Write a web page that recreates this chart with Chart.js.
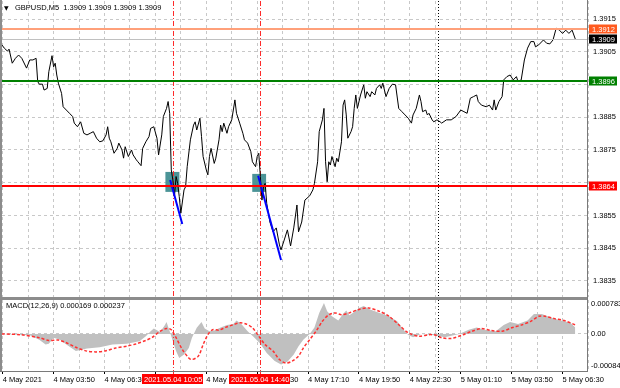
<!DOCTYPE html>
<html>
<head>
<meta charset="utf-8">
<script src="https://cdn.jsdelivr.net/npm/chart.js@4.4.1/dist/chart.umd.min.js"></script>
<style>
  html, body { margin: 0; padding: 0; background: #fff; }
  #wrap { position: relative; width: 620px; height: 388px; overflow: hidden; }
  #mainChart { position: absolute; left: 0; top: 0; }
  #macdChart { position: absolute; left: 0; top: 300px; }
</style>
</head>
<body>
<div id="wrap">
  <canvas id="mainChart" width="620" height="300"></canvas>
  <canvas id="macdChart" width="620" height="88"></canvas>
</div>
<script>
// GBPUSD M5, bar 0 = 4 May 2021 01:10
const symbol = 'GBPUSD,M5';
const ohlc = ['1.3909', '1.3909', '1.3909', '1.3909'];

const priceBars = [-0.5,1,3,4,6,8,10,12,15,17,19,21,22,23,25,26,28,29,31,32,33,34,35,37,38,40,42,44,45,47,49,51,53,55,57,59,61,63,65,66,67,68,70,72,73,75,76,77,79,81,82,84,85,87,88,90,92,
  93,95,97,98,100,101,103,104,105,106,107,108,109,110,111,112,114,115,116,118,120,121,122,124,125,126,128,129,130,131,133,134,136,137,138,139,141,142,144,145,146,147,149,151,152,154,156,157,159,160,161,162,163,164,165,166,168,170,172,174,175,177,179,181,183,185,186,188,190,193,195,196,198,199,201,202,203,204,205,206,207,209,210,211,213,214,215,216,217,219,220,221,222,223,225,227,228,229,231,232,234,235,237,238,239,241,243,245,247,249,251,253,255,257,258,260,262,263,264,266,267,268,270,271,273,275,276,279,282,285,288,290,292,294,296,298,299,301,304,306,308,309,310,312,314,315,317,319,321,323,324,326,328,330,332,334,335,337,340,342,344,346,348,350,352,354,356,358,360];
const closes = [1.39071,1.39061,1.39052,1.39058,1.39015,1.39030,1.39040,1.39030,1.39000,1.39025,1.39025,1.39030,1.38959,1.38951,1.38951,1.38933,1.38938,1.38989,1.39038,1.39004,1.39015,1.38979,1.38954,1.38923,1.38882,1.38872,1.38862,1.38852,1.38832,1.38821,1.38836,1.38801,1.38796,1.38801,1.38806,1.38786,1.38775,1.38778,1.38796,1.38821,1.38786,1.38775,1.38740,1.38755,1.38771,1.38750,1.38725,1.38760,1.38730,1.38750,1.38735,1.38720,1.38714,1.38702,1.38755,1.38775,1.38791,
  1.38816,1.38821,1.38786,1.38735,1.38796,1.38852,1.38877,1.38898,1.38862,1.38689,1.38658,1.38608,1.38669,1.38648,1.38608,1.38557,1.38628,1.38638,1.38699,1.38781,1.38826,1.38836,1.38811,1.38847,1.38791,1.38730,1.38689,1.38674,1.38730,1.38755,1.38709,1.38725,1.38781,1.38826,1.38806,1.38832,1.38801,1.38821,1.38842,1.38872,1.38903,1.38862,1.38832,1.38801,1.38781,1.38771,1.38745,1.38714,1.38699,1.38730,1.38740,1.38669,1.38597,1.38638,1.38648,1.38587,1.38530,1.38500,1.38512,1.38460,1.38445,1.38475,1.38506,1.38457,1.38512,1.38582,1.38500,1.38530,1.38597,1.38610,1.38628,1.38648,1.38714,1.38806,1.38842,1.38877,1.38714,1.38653,1.38714,1.38704,1.38730,1.38699,1.38725,1.38714,1.38775,1.38887,1.38903,1.38857,1.38786,1.38806,1.38821,1.38877,1.38918,1.38877,1.38918,1.38949,1.38908,1.38928,1.38913,1.38928,1.38918,1.38938,1.38949,1.38938,1.38954,1.38913,1.38938,1.38951,1.38949,1.38877,1.38867,1.38857,1.38847,1.38832,1.38857,1.38877,1.38918,1.38898,1.38867,1.38872,1.38857,1.38862,1.38842,1.38836,1.38842,1.38836,1.38832,1.38842,1.38842,1.38852,1.38872,1.38867,1.38862,1.38908,1.38913,1.38918,1.38898,1.38887,1.38882,1.38887,1.38872,1.38903,1.38872,1.38898,1.38913,1.38964,1.38974,1.38979,1.38964,1.38974,1.38959,1.38964,1.39025,1.39061,1.39081,1.39081,1.39065,1.39071,1.39086,1.39076,1.39074,1.39086,1.39122,1.39116,1.39106,1.39116,1.39106,1.39116,1.39089];

const histBars = [-0.5,17,23,27,29,32,36,40,46,53,61,69,78,86,90,93,95,99,102,103,105,107,109,111,114,117,119,122,125,127,130,133,137,141,145,147,150,154,158,162,166,171,175,179,183,186,189,193,196,199,202,204,207,211,214,216,218,221,224,227,231,237,243,248,252,255,258,263,270,278,287,293,298,303,310,315,319,324,330,334,339,345,351,357,360];
const histVals = [0,-0.000035,-0.00015,-0.00028,-0.00026,-0.0001,-0.00015,-0.00028,-0.00045,-0.00038,-0.00035,-0.00028,-0.00026,-0.00019,-0.00006,0.00007,0.00014,0.00005,0.00023,0.00031,0.00007,-0.00019,-0.00045,-0.00063,-0.00054,-0.00037,-0.0001,0.00016,0.00031,0.00014,0.00007,0.00009,0.00017,0.00023,0.00026,0.00035,0.00026,0.00007,-0.00009,-0.00026,-0.0005,-0.00071,-0.0008,-0.00073,-0.00054,-0.00032,-0.00015,0,0.00017,0.00055,0.00081,0.00059,0.00046,0.00035,0.00052,0.00061,0.00049,0.00057,0.00068,0.00073,0.00064,0.00055,0.00046,0.00033,0.00011,-0.00003,-0.00009,0,-0.00003,-0.00009,0,0.00011,0.00017,0.00011,0.00007,0.00023,0.00031,0.00026,0.00035,0.00052,0.00052,0.00042,0.00035,0.00029,0.000169];

const signalBars = [-0.5,11,23,29,35,40,46,53,59,65,71,78,84,90,94,99,103,106,109,113,117,119,123,126,129,132,136,140,145,149,153,157,161,165,170,174,178,182,186,189,193,197,201,205,209,213,218,224,230,237,243,249,255,262,268,272,276,282,289,295,301,307,314,320,326,332,337,341,347,353,360];
const signalVals = [0,-0.00002,-0.0001,-0.00017,-0.00016,-0.00023,-0.00035,-0.00045,-0.00047,-0.00044,-0.00037,-0.00032,-0.00026,-0.00017,-0.00009,0.00007,0.00014,0.00011,-0.0001,-0.00041,-0.00063,-0.00067,-0.00058,-0.00028,-0.00002,0.00011,0.0001,0.00017,0.00024,0.00029,0.00026,0.00016,-0.00006,-0.00028,-0.00045,-0.00067,-0.00076,-0.00071,-0.00058,-0.00037,-0.00015,0.00007,0.00033,0.0005,0.00055,0.0005,0.00055,0.00064,0.00068,0.00059,0.00046,0.00024,0.00003,-0.00006,-0.00002,-0.00003,-0.0001,-0.00012,-0.00003,0.00007,0.00014,0.00009,0.00007,0.00016,0.00023,0.00033,0.00046,0.00046,0.0004,0.00035,0.000237];
const macdText = 'MACD(12,26,9) 0.000169 0.000237';

// horizontal levels: 1.3912 (orange), bid 1.3909, 1.3896 (green), 1.3864 (red)
const levelPrices = [1.3912, 1.3909, 1.3896, 1.3864];
// blue trend lines and teal entry boxes
const trendBarsA = [105.3, 112.9], trendPricesA = [1.38658, 1.38524];
const trendBarsB = [160.6, 175], trendPricesB = [1.38671, 1.38414];
const zoneBars = [[102.3, 111.1], [156.9, 165.6]];
const zonePrices = [[1.38683, 1.38622], [1.38677, 1.38622]];
// vertical lines: 10:05, 14:40, day separator 5 May 00:00
const vLineBars = [107, 162, 274];
const vLineLabels = ['2021.05.04 10:05', '2021.05.04 14:40', ''];

const priceTicks = [1.3835, 1.3845, 1.3855, 1.3865, 1.3875, 1.3885, 1.3895, 1.3905, 1.3915];
const hiddenPriceTicks = [1.3865, 1.3895];
const macdTicks = [-0.00084, 0, 0.000783];
const macdTickLabels = ['-0.00084', '0.00', '0.000783'];
const xTickBars = [0, 32, 64, 96, 128, 160, 192, 224, 256, 288, 320, 352];
const xTickLabels = ['4 May 2021', '4 May 03:50', '4 May 06:30', '4 May 09:10', '4 May 11:50', '4 May 14:30',
  '4 May 17:10', '4 May 19:50', '4 May 22:30', '5 May 01:10', '5 May 03:50', '5 May 06:30'];

const FONT = '"Liberation Sans", Arial, sans-serif';
Chart.defaults.font.family = FONT;
Chart.defaults.font.size = 7.5;
Chart.defaults.color = '#000';

const X_MIN = -0.44, X_MAX = 368;
const levelStyle = [
  { line: '#ffa07a', width: 2, box: '#ff5a1e' },
  { line: '#c0c0c0', width: 1, box: '#000000' },
  { line: '#008000', width: 2, box: '#008000' },
  { line: '#ff0000', width: 2, box: '#ff0000' }
];
const vLineStyle = [
  { color: '#ff2a2a', dash: [5, 2, 1, 2] },
  { color: '#ff2a2a', dash: [5, 2, 1, 2] },
  { color: '#000000', dash: [1, 2] }
];

function gridTicks() {
  const t = [];
  for (let b = 0; b <= X_MAX; b += 16) t.push({ value: b });
  return t;
}

function pts(xs, ys) {
  return xs.map((b, i) => ({ x: b, y: ys[i] }));
}

// no extra room for first/last labels, the plot area is fixed
function noPad(s) {
  s.paddingTop = 0;
  s.paddingBottom = 0;
  s.paddingLeft = 0;
  s.paddingRight = 0;
}

function drawVLines(ctx, x, top, bottom) {
  vLineBars.forEach((b, i) => {
    const px = Math.round(x.getPixelForValue(b)) + 0.5;
    ctx.strokeStyle = vLineStyle[i].color;
    ctx.setLineDash(vLineStyle[i].dash);
    ctx.lineWidth = 1;
    ctx.beginPath();
    ctx.moveTo(px, top);
    ctx.lineTo(px, bottom);
    ctx.stroke();
  });
  ctx.setLineDash([]);
}

const mainOverlay = {
  id: 'mainOverlay',
  beforeDatasetsDraw(chart) {
    const { ctx, chartArea: a, scales: { x, y } } = chart;
    ctx.save();
    ctx.beginPath();
    ctx.rect(a.left, a.top, a.right - a.left, a.bottom - a.top);
    ctx.clip();
    ctx.fillStyle = '#4b9497';
    zoneBars.forEach((zb, i) => {
      const x1 = x.getPixelForValue(zb[0]), x2 = x.getPixelForValue(zb[1]);
      const y1 = y.getPixelForValue(zonePrices[i][0]), y2 = y.getPixelForValue(zonePrices[i][1]);
      ctx.fillRect(x1, y1, x2 - x1, y2 - y1);
    });
    drawVLines(ctx, x, a.top, a.bottom);
    ctx.restore();
  },
  afterDatasetsDraw(chart) {
    const { ctx, chartArea: a, scales: { y } } = chart;
    ctx.save();
    levelPrices.forEach((p, i) => {
      const st = levelStyle[i];
      let py = Math.round(y.getPixelForValue(p));
      if (st.width === 1) py += 0.5;
      ctx.strokeStyle = st.line;
      ctx.lineWidth = st.width;
      ctx.beginPath();
      ctx.moveTo(a.left, py);
      ctx.lineTo(a.right, py);
      ctx.stroke();
    });
    ctx.restore();
  },
  afterDraw(chart) {
    const { ctx, chartArea: a, scales: { y } } = chart;
    ctx.save();
    // frame
    ctx.fillStyle = '#8c8c8c';
    ctx.fillRect(0, 0, 2, 300);
    ctx.fillRect(0, 297, a.right, 3);
    ctx.fillStyle = '#7a7a7a';
    ctx.fillRect(Math.round(a.right) - 1, 0, 1, 300);
    // price labels of the levels
    ctx.font = '7.5px ' + FONT;
    ctx.textBaseline = 'middle';
    ctx.textAlign = 'left';
    levelPrices.forEach((p, i) => {
      const py = Math.round(y.getPixelForValue(p));
      ctx.fillStyle = levelStyle[i].box;
      ctx.fillRect(a.right + 1, py - 4.5, 28, 9);
      ctx.fillStyle = '#ffffff';
      ctx.fillText(p.toFixed(4), a.right + 4, py + 0.5);
    });
    // title
    ctx.fillStyle = '#000';
    ctx.font = '6px "DejaVu Sans", sans-serif';
    ctx.fillText('▼', 4, 8);
    ctx.font = '7.5px ' + FONT;
    ctx.fillText(symbol + '  ' + ohlc.join(' '), 15, 8);
    ctx.restore();
  }
};

const macdOverlay = {
  id: 'macdOverlay',
  afterDatasetsDraw(chart) {
    const { ctx, chartArea: a, scales: { x } } = chart;
    ctx.save();
    drawVLines(ctx, x, a.top, a.bottom + 3);
    ctx.restore();
  },
  afterDraw(chart) {
    const { ctx, chartArea: a, scales: { x } } = chart;
    ctx.save();
    ctx.fillStyle = '#8c8c8c';
    ctx.fillRect(0, 0, 2, a.bottom);
    ctx.fillStyle = '#7a7a7a';
    ctx.fillRect(Math.round(a.right) - 1, 0, 1, a.bottom);
    ctx.fillRect(0, Math.round(a.bottom), Math.round(a.right), 1);
    ctx.font = '7.5px ' + FONT;
    ctx.textBaseline = 'middle';
    ctx.textAlign = 'left';
    ctx.fillStyle = '#000';
    ctx.fillText(macdText, 6, 6);
    // time labels of the vertical lines
    vLineBars.forEach((b, i) => {
      const txt = vLineLabels[i];
      if (!txt) return;
      const px = x.getPixelForValue(b);
      const w = ctx.measureText(txt).width;
      ctx.fillStyle = '#ff0000';
      ctx.fillRect(Math.round(px - w / 2 - 2), 74, Math.round(w + 3), 10);
      ctx.fillStyle = '#ffffff';
      ctx.fillText(txt, Math.round(px - w / 2), 79.5);
    });
    ctx.restore();
  }
};

new Chart(document.getElementById('mainChart'), {
  type: 'line',
  data: {
    datasets: [
      { data: pts(trendBarsA, trendPricesA), borderColor: '#0000ff', borderWidth: 2, pointRadius: 0, order: 1 },
      { data: pts(trendBarsB, trendPricesB), borderColor: '#0000ff', borderWidth: 2, pointRadius: 0, order: 1 },
      { data: pts(priceBars, closes), borderColor: '#000000', borderWidth: 1, pointRadius: 0, tension: 0, order: 2 }
    ]
  },
  options: {
    responsive: false,
    animation: false,
    layout: { padding: { left: 2, top: 1, right: 0, bottom: 3 } },
    plugins: { legend: { display: false }, tooltip: { enabled: false } },
    scales: {
      x: {
        type: 'linear', min: X_MIN, max: X_MAX,
        afterBuildTicks: s => { s.ticks = gridTicks(); },
        afterFit: s => { s.height = 0; noPad(s); },
        ticks: { display: false },
        grid: { color: '#c8c8c8', drawTicks: false },
        border: { display: false, dash: [3, 3] }
      },
      y: {
        position: 'right', min: 1.38301, max: 1.39205,
        afterBuildTicks: s => { s.ticks = priceTicks.map(v => ({ value: v })); },
        afterFit: s => { s.width = 32; noPad(s); },
        ticks: {
          padding: 5, autoSkip: false,
          callback: v => hiddenPriceTicks.includes(v) ? '' : v.toFixed(4)
        },
        grid: { color: '#c8c8c8', drawTicks: false },
        border: { display: false, dash: [3, 3] }
      }
    }
  },
  plugins: [mainOverlay]
});

new Chart(document.getElementById('macdChart'), {
  type: 'line',
  data: {
    datasets: [
      { data: pts(signalBars, signalVals), borderColor: '#ff3030', borderWidth: 1.5, borderDash: [3, 2], pointRadius: 0, tension: 0.3, order: 1 },
      { data: pts(histBars, histVals), borderWidth: 0, borderColor: 'rgba(0,0,0,0)', backgroundColor: '#c0c0c0', fill: 'origin', pointRadius: 0, tension: 0, order: 2 }
    ]
  },
  options: {
    responsive: false,
    animation: false,
    layout: { padding: { left: 2, top: 0, right: 0, bottom: 0 } },
    plugins: { legend: { display: false }, tooltip: { enabled: false } },
    scales: {
      x: {
        type: 'linear', min: X_MIN, max: X_MAX,
        afterBuildTicks: s => { s.ticks = gridTicks(); },
        afterFit: s => { s.height = 17; noPad(s); },
        ticks: {
          autoSkip: false, maxRotation: 0, minRotation: 0, align: 'start', padding: 1,
          callback: v => { const i = xTickBars.indexOf(v); return i < 0 ? '' : xTickLabels[i]; }
        },
        grid: {
          color: '#c8c8c8', tickLength: 3,
          tickColor: c => (c.tick && xTickBars.includes(c.tick.value)) ? '#000' : 'rgba(0,0,0,0)'
        },
        border: { display: false, dash: [3, 3] }
      },
      y: {
        position: 'right', min: -0.00097, max: 0.000887,
        afterBuildTicks: s => { s.ticks = macdTicks.map(v => ({ value: v })); },
        afterFit: s => { s.width = 32; noPad(s); },
        ticks: {
          padding: 3, autoSkip: false,
          callback: v => macdTickLabels[macdTicks.indexOf(v)]
        },
        grid: { color: c => (c.tick && c.tick.value === 0) ? '#c8c8c8' : 'rgba(0,0,0,0)', drawTicks: false },
        border: { display: false, dash: [3, 3] }
      }
    }
  },
  plugins: [macdOverlay]
});
</script>
</body>
</html>
